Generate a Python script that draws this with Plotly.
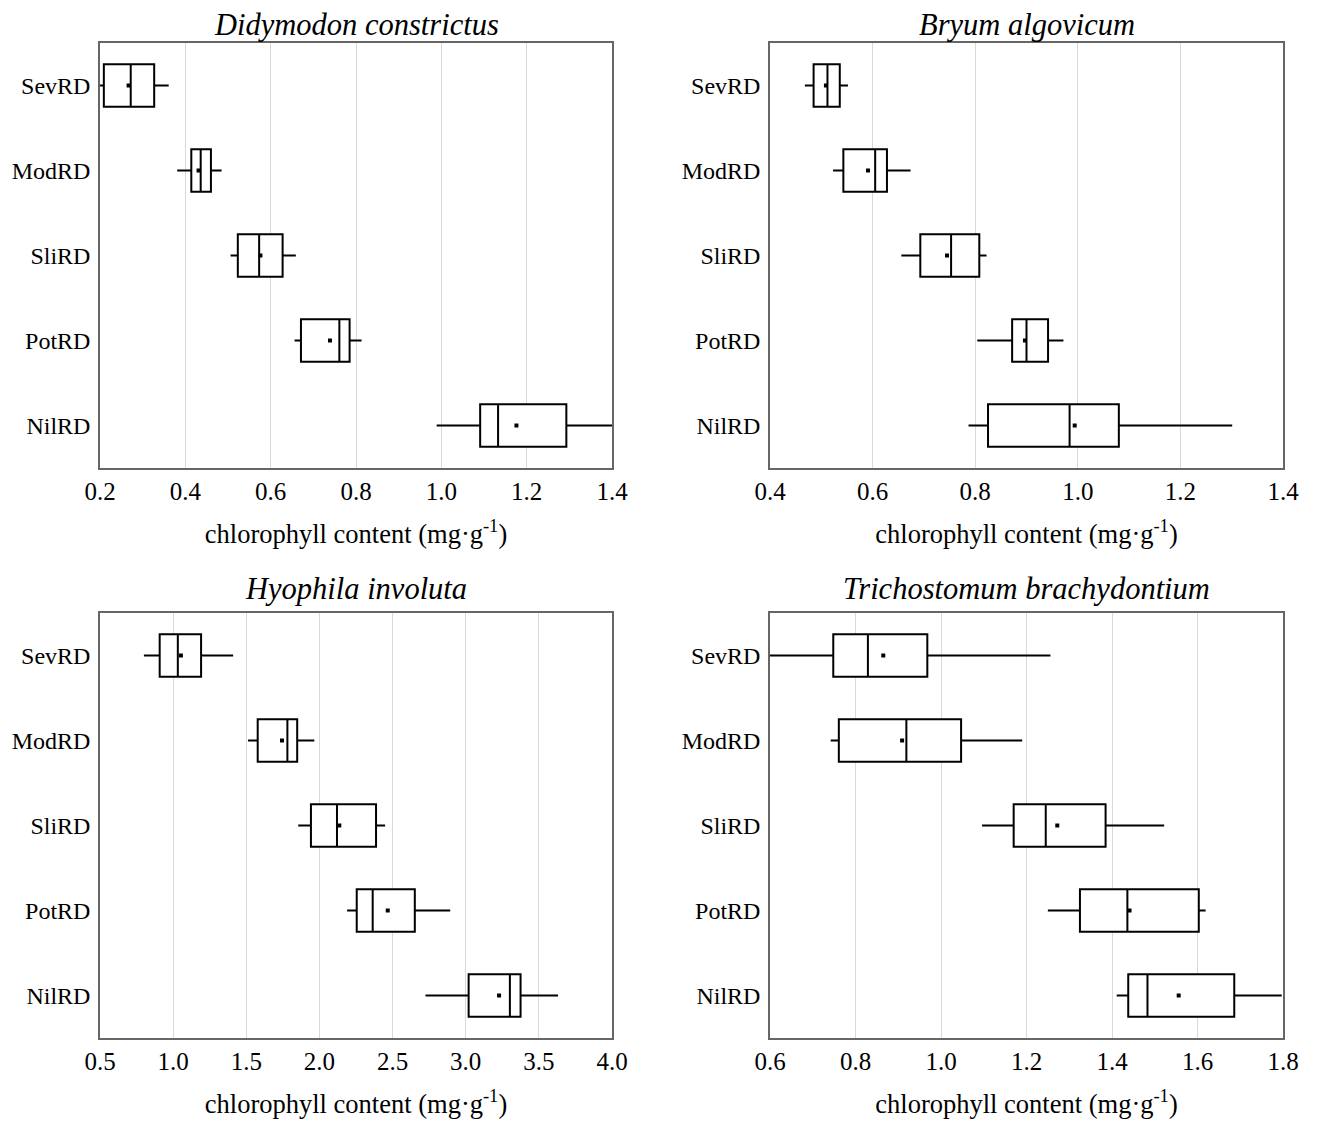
import plotly.graph_objects as go

categories = ["SevRD", "ModRD", "SliRD", "PotRD", "NilRD"]

titles = ["Didymodon constrictus", "Bryum algovicum", "Hyophila involuta", "Trichostomum brachydontium"]

# Didymodon constrictus
d_low = [0.20, 0.381, 0.506, 0.656, 0.989]
d_q1 = [0.209, 0.414, 0.523, 0.671, 1.091]
d_med = [0.272, 0.436, 0.573, 0.761, 1.133]
d_q3 = [0.327, 0.460, 0.628, 0.785, 1.293]
d_up = [0.361, 0.485, 0.659, 0.813, 1.40]
d_mean = [0.267, 0.431, 0.576, 0.739, 1.176]

# Bryum algovicum
b_low = [0.468, 0.523, 0.656, 0.804, 0.787]
b_q1 = [0.485, 0.543, 0.693, 0.872, 0.825]
b_med = [0.512, 0.605, 0.753, 0.900, 0.984]
b_q3 = [0.536, 0.628, 0.808, 0.942, 1.080]
b_up = [0.552, 0.674, 0.822, 0.972, 1.301]
b_mean = [0.509, 0.591, 0.745, 0.897, 0.994]

# Hyophila involuta
h_low = [0.800, 1.512, 1.855, 2.189, 2.725]
h_q1 = [0.908, 1.578, 1.942, 2.255, 3.020]
h_med = [1.032, 1.781, 2.120, 2.364, 3.302]
h_q3 = [1.191, 1.848, 2.387, 2.652, 3.375]
h_up = [1.410, 1.965, 2.449, 2.894, 3.631]
h_mean = [1.053, 1.744, 2.136, 2.467, 3.228]

# Trichostomum brachydontium
t_low = [0.600, 0.742, 1.096, 1.250, 1.411]
t_q1 = [0.748, 0.761, 1.170, 1.325, 1.438]
t_med = [0.829, 0.919, 1.245, 1.436, 1.483]
t_q3 = [0.968, 1.047, 1.385, 1.603, 1.686]
t_up = [1.256, 1.190, 1.522, 1.619, 1.797]
t_mean = [0.865, 0.909, 1.272, 1.441, 1.556]

x_ranges = [[0.2, 1.4], [0.4, 1.4], [0.5, 4.0], [0.6, 1.8]]
x_dticks = [0.2, 0.2, 0.5, 0.2]

panels = [
    (d_low, d_q1, d_med, d_q3, d_up, d_mean),
    (b_low, b_q1, b_med, b_q3, b_up, b_mean),
    (h_low, h_q1, h_med, h_q3, h_up, h_mean),
    (t_low, t_q1, t_med, t_q3, t_up, t_mean),
]

W, H = 1317, 1124
OFF = 8  # page body margin
ML, MR, MT, MB = 100 - OFF, 42, 43 - OFF, H - (1038 - OFF)
PW, PH = W - ML - MR, H - MT - MB
x_dom = [[0, (612 - 100) / PW], [(770 - 100) / PW, 1]]
y_dom = [[(1038 - 468) / PH, 1], [0, (1038 - 613) / PH]]
title_y = [(1038 - 25) / PH, (1038 - 589) / PH]

SERIF = "Liberation Serif, Times New Roman, serif"

fig = go.Figure()
layout = dict(
    width=W, height=H,
    margin=dict(l=ML, r=MR, t=MT, b=MB, autoexpand=False),
    paper_bgcolor="white", plot_bgcolor="white",
    showlegend=False,
    font=dict(family=SERIF, size=25, color="black"),
)
annotations = []
for i, (low, q1, med, q3, up, mean) in enumerate(panels):
    r, c = divmod(i, 2)
    n = "" if i == 0 else str(i + 1)
    xa, ya = "x" + n, "y" + n
    fig.add_trace(go.Box(
        y=categories, q1=q1, median=med, q3=q3,
        lowerfence=low, upperfence=up,
        orientation="h", width=0.5,
        fillcolor="white", line=dict(color="black", width=2),
        whiskerwidth=0, boxpoints=False, hoverinfo="skip",
        xaxis=xa, yaxis=ya,
    ))
    fig.add_trace(go.Scatter(
        x=mean, y=categories, mode="markers",
        marker=dict(symbol="square", size=4, color="black"),
        xaxis=xa, yaxis=ya, hoverinfo="skip",
    ))
    xkey = "xaxis" + n
    ykey = "yaxis" + n
    layout[xkey] = dict(
        domain=x_dom[c], anchor=ya, range=x_ranges[i], dtick=x_dticks[i],
        tick0=x_ranges[i][0], tickformat=".1f", automargin=False,
        showgrid=True, gridcolor="#d9d9d9", gridwidth=1,
        zeroline=False, showline=True, linecolor="#666666", linewidth=1.5, mirror=True,
        ticks="", ticklabelstandoff=0, tickfont=dict(family=SERIF, size=25, color="black"),
        title=dict(text="chlorophyll content (mg·g<sup>-1</sup>)",
                   font=dict(family=SERIF, size=26.5, color="black"), standoff=21),
    )
    layout[ykey] = dict(
        domain=y_dom[r], anchor=xa, type="category",
        categoryorder="array", categoryarray=categories, automargin=False,
        range=[4.5, -0.5],
        showgrid=False, zeroline=False, showline=True, linecolor="#666666",
        linewidth=1.5, mirror=True, ticks="", ticklabelstandoff=3,
        tickfont=dict(family=SERIF, size=24, color="black"),
    )
    annotations.append(dict(
        text="<i>" + titles[i] + "</i>", xref="paper", yref="paper",
        x=(x_dom[c][0] + x_dom[c][1]) / 2, y=title_y[r],
        xanchor="center", yanchor="middle", showarrow=False,
        font=dict(family=SERIF, size=30.5, color="black"),
    ))
layout["annotations"] = annotations
fig.update_layout(**layout)
fig.write_html("out.html")
